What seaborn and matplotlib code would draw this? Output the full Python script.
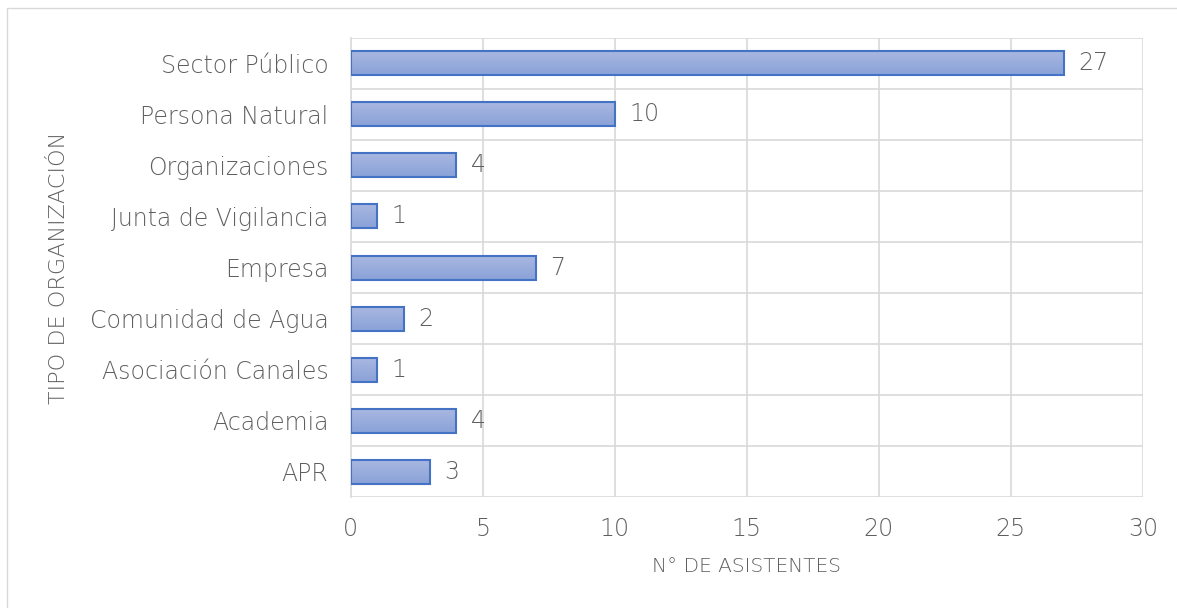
import numpy as np
import pandas as pd
import matplotlib
matplotlib.use("Agg")
import matplotlib.pyplot as plt
import seaborn as sns
from matplotlib.lines import Line2D
from matplotlib.colors import LinearSegmentedColormap

categories = ["Sector Público", "Persona Natural", "Organizaciones", "Junta de Vigilancia",
              "Empresa", "Comunidad de Agua", "Asociación Canales", "Academia", "APR"]
values = [27, 10, 4, 1, 7, 2, 1, 4, 3]
xticks = [0, 5, 10, 15, 20, 25, 30]

sns.set_style("white")
plt.rcParams['font.family'] = ['DejaVu Sans']
plt.rcParams['font.weight'] = 200
grey = "#5f5f5f"
FS = 17

df = pd.DataFrame({"cat": categories, "val": values})
fig = plt.figure(figsize=(11.77, 6.08), dpi=100)
ax = fig.add_axes([0.298, 0.182, 0.673, 0.756])
sns.barplot(data=df, y="cat", x="val", order=categories, orient="h", ax=ax,
            color="#9aaddc", edgecolor="#4472c4", linewidth=1.5, width=0.47, saturation=1)

grad = np.linspace(0, 1, 64).reshape(-1, 1)
cmap = LinearSegmentedColormap.from_list("g", ["#aab8e1", "#8aa2d8"])
for p in ax.patches:
    x0, y0 = p.get_x(), p.get_y()
    w, h = p.get_width(), p.get_height()
    im = ax.imshow(grad, cmap=cmap, aspect="auto", extent=[x0, x0 + w, y0 + h, y0],
                   origin="upper", zorder=p.get_zorder() - 0.1)
    im.set_clip_path(p)
    p.set_facecolor("none")
    p.set_zorder(3)

ax.set_xlim(0, 30)
ax.set_ylim(len(categories) - 0.5, -0.5)
ax.set_xticks(xticks)
ax.set_xticklabels([str(t) for t in xticks])
for t in xticks[1:]:
    ax.axvline(t, color="#d9d9d9", lw=1.2, zorder=0)
for i in range(len(categories) + 1):
    ax.axhline(i - 0.5, color="#d9d9d9", lw=1.2, zorder=0)
for s in ["top", "right", "bottom"]:
    ax.spines[s].set_visible(False)
ax.spines["left"].set_color("#d9d9d9")
ax.spines["left"].set_linewidth(1.2)
ax.tick_params(axis="both", length=0, labelsize=FS, colors=grey)
ax.tick_params(axis="x", pad=14)
ax.tick_params(axis="y", pad=16)

for i, v in enumerate(values):
    ax.text(v + 0.55, i, str(v), va="center", ha="left", fontsize=FS, color=grey, fontweight=200)

ax.set_xlabel("N° DE ASISTENTES", fontsize=14.5, color=grey, labelpad=12, fontweight=200)
ax.set_ylabel("TIPO DE ORGANIZACIÓN", fontsize=16, color=grey, labelpad=15, fontweight=200)

# chart-area border (top and left edges visible)
fig.add_artist(Line2D([7 / 1177, 7 / 1177], [0, 1 - 8 / 608], transform=fig.transFigure,
                      color="#d9d9d9", lw=1))
fig.add_artist(Line2D([7 / 1177, 1], [1 - 8 / 608, 1 - 8 / 608], transform=fig.transFigure,
                      color="#d9d9d9", lw=1))
fig.savefig("out.png", dpi=100)
